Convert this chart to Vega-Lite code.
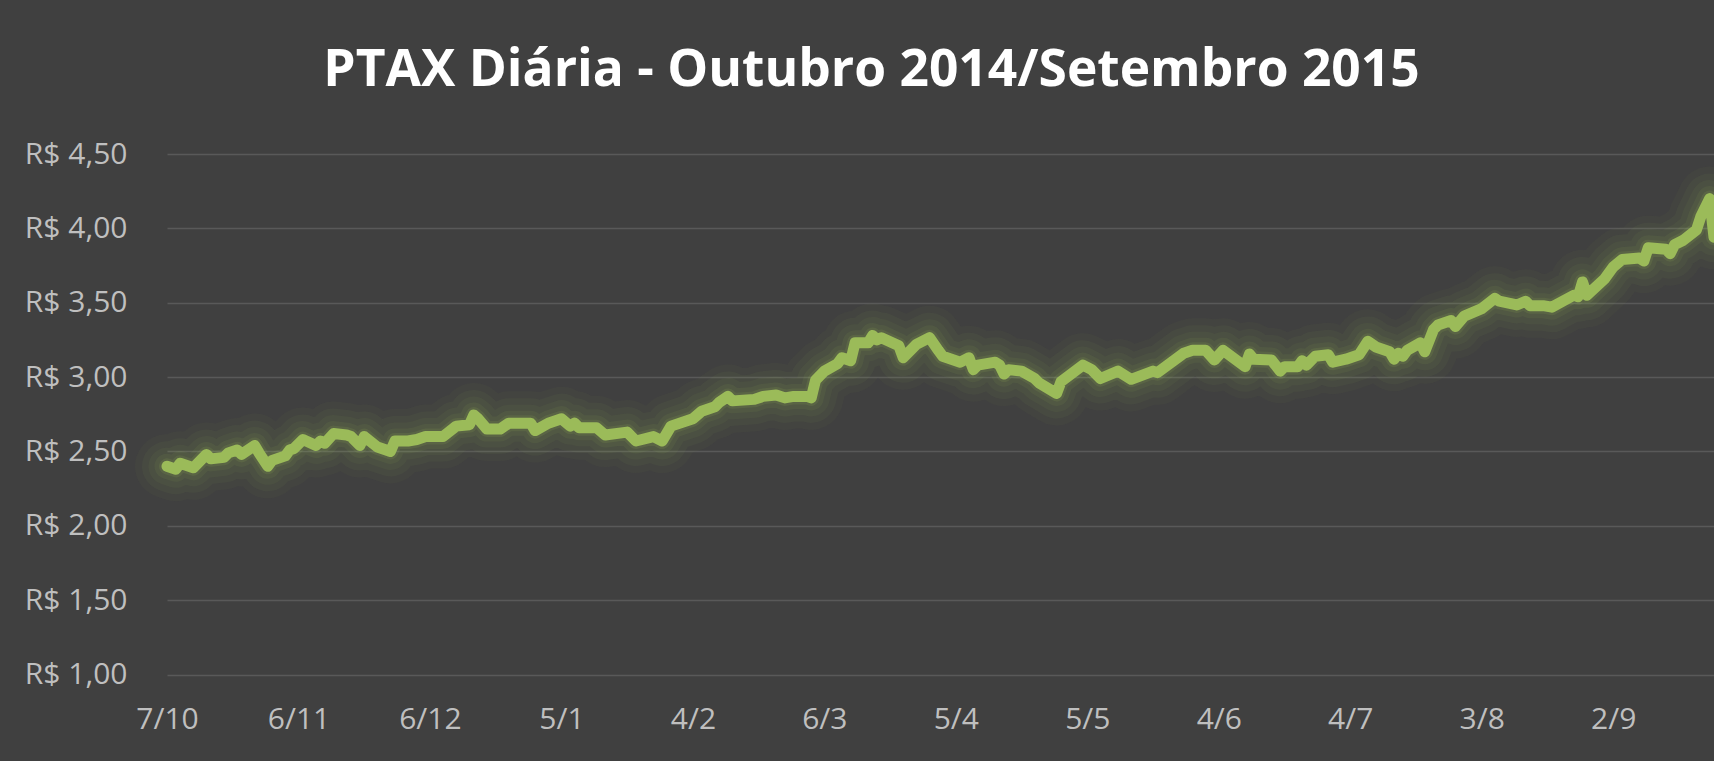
{
  "$schema": "https://vega.github.io/schema/vega-lite/v6.json",
  "autosize": {"type": "none"},
  "padding": {"left": 167, "top": 154, "right": 0, "bottom": 86.5},
  "width": 1547,
  "height": 520.5,
  "background": "#404040",
  "config": {"view": {"stroke": null}},
  "title": {
    "text": "PTAX Diária - Outubro 2014/Setembro 2015",
    "font": "Open Sans",
    "fontSize": 51.5,
    "fontWeight": "bold",
    "color": "#ffffff",
    "anchor": "middle",
    "dx": -69,
    "baseline": "alphabetic",
    "offset": 2
  },
  "data": {"values": [
    {"d":"2014-10-07","v":2.40},{"d":"2014-10-09","v":2.38},{"d":"2014-10-10","v":2.42},{"d":"2014-10-13","v":2.39},
    {"d":"2014-10-16","v":2.48},{"d":"2014-10-17","v":2.45},{"d":"2014-10-20","v":2.46},{"d":"2014-10-21","v":2.49},
    {"d":"2014-10-23","v":2.51},{"d":"2014-10-24","v":2.48},{"d":"2014-10-27","v":2.54},{"d":"2014-10-28","v":2.49},
    {"d":"2014-10-30","v":2.40},{"d":"2014-10-31","v":2.44},{"d":"2014-11-03","v":2.47},{"d":"2014-11-04","v":2.51},
    {"d":"2014-11-05","v":2.52},{"d":"2014-11-07","v":2.58},{"d":"2014-11-10","v":2.54},{"d":"2014-11-11","v":2.57},
    {"d":"2014-11-12","v":2.555},{"d":"2014-11-14","v":2.62},{"d":"2014-11-17","v":2.61},{"d":"2014-11-18","v":2.60},
    {"d":"2014-11-20","v":2.54},{"d":"2014-11-21","v":2.60},{"d":"2014-11-24","v":2.53},{"d":"2014-11-27","v":2.50},
    {"d":"2014-11-28","v":2.57},{"d":"2014-12-01","v":2.57},{"d":"2014-12-03","v":2.58},{"d":"2014-12-05","v":2.60},
    {"d":"2014-12-09","v":2.60},{"d":"2014-12-12","v":2.67},{"d":"2014-12-15","v":2.68},{"d":"2014-12-16","v":2.745},
    {"d":"2014-12-17","v":2.72},{"d":"2014-12-19","v":2.65},{"d":"2014-12-22","v":2.65},{"d":"2014-12-24","v":2.69},
    {"d":"2014-12-29","v":2.69},{"d":"2014-12-30","v":2.64},{"d":"2015-01-02","v":2.69},{"d":"2015-01-05","v":2.72},
    {"d":"2015-01-07","v":2.67},{"d":"2015-01-08","v":2.69},{"d":"2015-01-09","v":2.66},{"d":"2015-01-13","v":2.66},
    {"d":"2015-01-15","v":2.61},{"d":"2015-01-20","v":2.63},{"d":"2015-01-22","v":2.57},{"d":"2015-01-26","v":2.60},
    {"d":"2015-01-28","v":2.57},{"d":"2015-01-30","v":2.67},{"d":"2015-02-04","v":2.72},{"d":"2015-02-06","v":2.77},
    {"d":"2015-02-09","v":2.80},{"d":"2015-02-10","v":2.83},{"d":"2015-02-12","v":2.87},{"d":"2015-02-13","v":2.84},
    {"d":"2015-02-18","v":2.85},{"d":"2015-02-20","v":2.87},{"d":"2015-02-23","v":2.88},{"d":"2015-02-25","v":2.86},
    {"d":"2015-02-27","v":2.87},{"d":"2015-03-02","v":2.87},{"d":"2015-03-03","v":2.86},{"d":"2015-03-04","v":2.98},
    {"d":"2015-03-06","v":3.04},{"d":"2015-03-09","v":3.09},{"d":"2015-03-10","v":3.13},{"d":"2015-03-12","v":3.11},
    {"d":"2015-03-13","v":3.23},{"d":"2015-03-16","v":3.23},{"d":"2015-03-17","v":3.28},{"d":"2015-03-18","v":3.25},
    {"d":"2015-03-19","v":3.265},{"d":"2015-03-23","v":3.21},{"d":"2015-03-24","v":3.13},{"d":"2015-03-27","v":3.22},
    {"d":"2015-03-30","v":3.265},{"d":"2015-04-01","v":3.18},{"d":"2015-04-02","v":3.14},{"d":"2015-04-06","v":3.10},
    {"d":"2015-04-08","v":3.13},{"d":"2015-04-09","v":3.05},{"d":"2015-04-10","v":3.08},{"d":"2015-04-14","v":3.10},
    {"d":"2015-04-15","v":3.08},{"d":"2015-04-16","v":3.02},{"d":"2015-04-17","v":3.05},{"d":"2015-04-20","v":3.04},
    {"d":"2015-04-23","v":2.99},{"d":"2015-04-24","v":2.96},{"d":"2015-04-28","v":2.89},{"d":"2015-04-29","v":2.97},
    {"d":"2015-05-04","v":3.08},{"d":"2015-05-06","v":3.05},{"d":"2015-05-08","v":2.99},{"d":"2015-05-12","v":3.04},
    {"d":"2015-05-15","v":2.985},{"d":"2015-05-20","v":3.04},{"d":"2015-05-21","v":3.03},{"d":"2015-05-27","v":3.16},
    {"d":"2015-05-29","v":3.18},{"d":"2015-06-01","v":3.18},{"d":"2015-06-03","v":3.115},{"d":"2015-06-05","v":3.18},
    {"d":"2015-06-10","v":3.07},{"d":"2015-06-11","v":3.155},{"d":"2015-06-12","v":3.12},{"d":"2015-06-16","v":3.115},
    {"d":"2015-06-18","v":3.04},{"d":"2015-06-19","v":3.07},{"d":"2015-06-22","v":3.07},{"d":"2015-06-23","v":3.11},
    {"d":"2015-06-24","v":3.08},{"d":"2015-06-26","v":3.14},{"d":"2015-06-29","v":3.15},{"d":"2015-06-30","v":3.10},
    {"d":"2015-07-03","v":3.12},{"d":"2015-07-06","v":3.15},{"d":"2015-07-08","v":3.24},{"d":"2015-07-10","v":3.20},
    {"d":"2015-07-13","v":3.17},{"d":"2015-07-14","v":3.12},{"d":"2015-07-15","v":3.16},{"d":"2015-07-16","v":3.14},
    {"d":"2015-07-17","v":3.18},{"d":"2015-07-20","v":3.23},{"d":"2015-07-21","v":3.17},{"d":"2015-07-23","v":3.32},
    {"d":"2015-07-24","v":3.35},{"d":"2015-07-27","v":3.38},{"d":"2015-07-28","v":3.34},{"d":"2015-07-30","v":3.41},
    {"d":"2015-08-03","v":3.46},{"d":"2015-08-06","v":3.53},{"d":"2015-08-07","v":3.51},{"d":"2015-08-11","v":3.485},
    {"d":"2015-08-13","v":3.51},{"d":"2015-08-14","v":3.48},{"d":"2015-08-17","v":3.48},{"d":"2015-08-19","v":3.47},
    {"d":"2015-08-24","v":3.55},{"d":"2015-08-25","v":3.54},{"d":"2015-08-26","v":3.64},{"d":"2015-08-27","v":3.55},
    {"d":"2015-08-31","v":3.66},{"d":"2015-09-02","v":3.74},{"d":"2015-09-04","v":3.79},{"d":"2015-09-08","v":3.80},
    {"d":"2015-09-09","v":3.78},{"d":"2015-09-10","v":3.87},{"d":"2015-09-14","v":3.86},{"d":"2015-09-15","v":3.83},
    {"d":"2015-09-16","v":3.89},{"d":"2015-09-18","v":3.92},{"d":"2015-09-21","v":3.99},{"d":"2015-09-22","v":4.08},
    {"d":"2015-09-24","v":4.20},{"d":"2015-09-25","v":3.94}
  ]},
  "encoding": {
    "x": {
      "field": "d", "type": "temporal",
      "scale": {"type": "utc", "domain": [{"year": 2014, "month": 10, "date": 7, "utc": true}, {"year": 2015, "month": 9, "date": 25, "utc": true}]},
      "axis": {
        "title": null,
        "grid": false, "domain": false, "ticks": false,
        "values": [
          {"year": 2014, "month": 10, "date": 7, "utc": true},
          {"year": 2014, "month": 11, "date": 6, "utc": true},
          {"year": 2014, "month": 12, "date": 6, "utc": true},
          {"year": 2015, "month": 1, "date": 5, "utc": true},
          {"year": 2015, "month": 2, "date": 4, "utc": true},
          {"year": 2015, "month": 3, "date": 6, "utc": true},
          {"year": 2015, "month": 4, "date": 5, "utc": true},
          {"year": 2015, "month": 5, "date": 5, "utc": true},
          {"year": 2015, "month": 6, "date": 4, "utc": true},
          {"year": 2015, "month": 7, "date": 4, "utc": true},
          {"year": 2015, "month": 8, "date": 3, "utc": true},
          {"year": 2015, "month": 9, "date": 2, "utc": true}
        ],
        "labelExpr": "utcFormat(datum.value, '%-d/%-m')",
        "labelFont": "Open Sans", "labelFontSize": 30, "labelColor": "#bfbfbf",
        "labelPadding": 30, "labelFlush": false, "labelOverlap": false
      }
    },
    "y": {
      "field": "v", "type": "quantitative",
      "scale": {"domain": [1, 4.5], "nice": false, "zero": false},
      "axis": {
        "title": null,
        "values": [1, 1.5, 2, 2.5, 3, 3.5, 4, 4.5],
        "labelExpr": "'R$ ' + replace(format(datum.value, '.2f'), '.', ',')",
        "domain": false, "ticks": false,
        "grid": true, "gridColor": "#595959", "gridWidth": 1.5,
        "labelFont": "Open Sans", "labelFontSize": 30, "labelColor": "#bfbfbf",
        "labelPadding": 40
      }
    }
  },
  "layer": [
    {"mark": {"type": "line", "color": "#9bbb59", "strokeWidth": 64, "opacity": 0.04, "strokeCap": "round", "strokeJoin": "round"}},
    {"mark": {"type": "line", "color": "#9bbb59", "strokeWidth": 50, "opacity": 0.05, "strokeCap": "round", "strokeJoin": "round"}},
    {"mark": {"type": "line", "color": "#9bbb59", "strokeWidth": 37, "opacity": 0.06, "strokeCap": "round", "strokeJoin": "round"}},
    {"mark": {"type": "line", "color": "#9bbb59", "strokeWidth": 25, "opacity": 0.08, "strokeCap": "round", "strokeJoin": "round"}},
    {"mark": {"type": "line", "color": "#9bbb59", "strokeWidth": 16, "opacity": 0.12, "strokeCap": "round", "strokeJoin": "round"}},
    {"mark": {"type": "line", "color": "#9bbb59", "strokeWidth": 11, "strokeCap": "round", "strokeJoin": "round"}}
  ]
}
